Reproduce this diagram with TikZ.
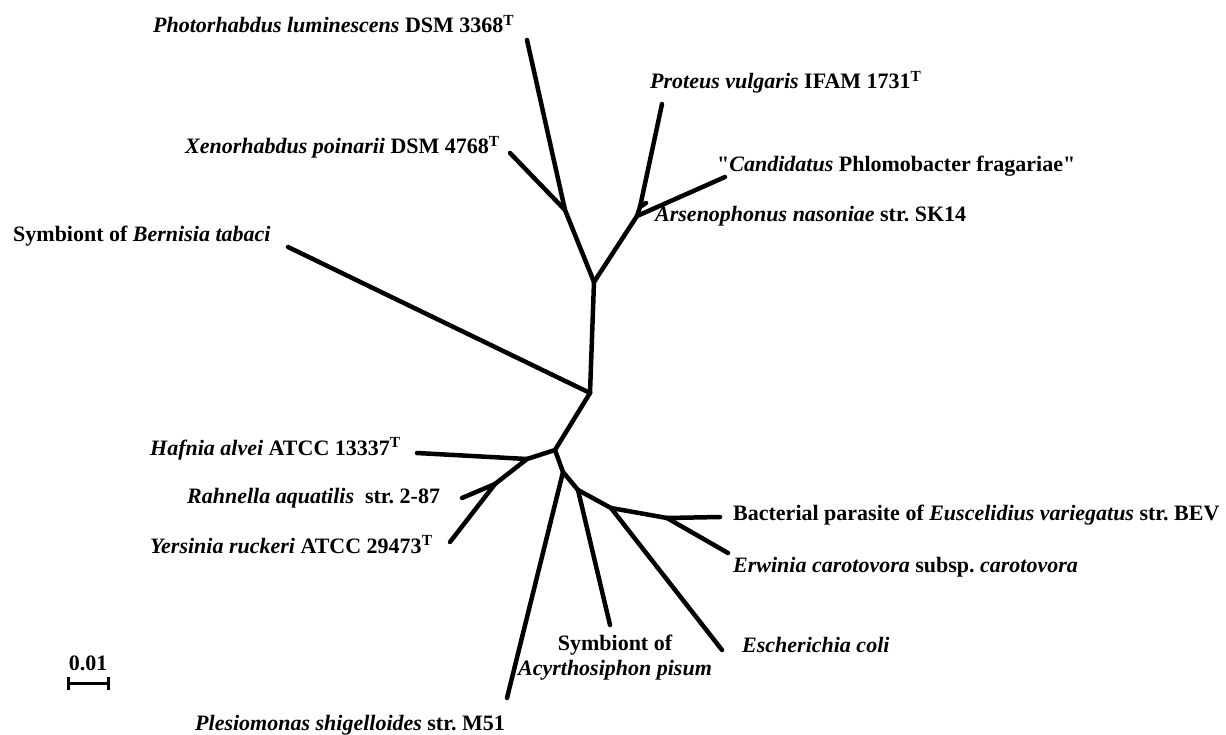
\documentclass[tikz,border=0pt]{standalone}
\usepackage{fontspec}
\setmainfont{Liberation Serif}[Ligatures=TeXOff]
\usetikzlibrary{arrows.meta}
\frenchspacing
\tikzset{
  branch/.style={line width=4.5pt,line cap=round},
  taxon/.style={anchor=base west,inner sep=0pt},
}
\newcommand{\typestrain}{\textsuperscript{T}}

\begin{document}
\begin{tikzpicture}[x=1pt,y=-1pt,every node/.style={font=\fontsize{22}{25}\selectfont\bfseries}]
\useasboundingbox (0,0) rectangle (1226,735);
% internal nodes
\coordinate (nA) at (565,210);
\coordinate (nB) at (637,216);
\coordinate (nBb) at (640,207);
\coordinate (nC) at (594,282);
\coordinate (nD) at (590,393);
\coordinate (nE) at (555,450);
\coordinate (nF) at (527,459);
\coordinate (nG) at (495,484);
\coordinate (nH) at (563,472);
\coordinate (nI) at (578,490);
\coordinate (nJ) at (611,508);
\coordinate (nK) at (667,518);
% tips
\coordinate (lPhoto) at (527,40);
\coordinate (lXeno) at (510,153);
\coordinate (lProt) at (662,104);
\coordinate (lCand) at (725,177);
\coordinate (lArs) at (646,203);
\coordinate (lBern) at (288,247);
\coordinate (lHaf) at (417,453);
\coordinate (lRahn) at (462,498);
\coordinate (lYers) at (450,542);
\coordinate (lPles) at (507,698);
\coordinate (lAcyr) at (610,625);
\coordinate (lEsch) at (722,650);
\coordinate (lBev) at (720,517);
\coordinate (lErw) at (728,553);
% branches
\foreach \a/\b in {lPhoto/nA,lXeno/nA,nA/nC,nB/nC,nB/lCand,nB/nBb,nBb/lProt,nBb/lArs,
  nC/nD,lBern/nD,nD/nE,nE/nF,nF/lHaf,nF/nG,nG/lRahn,nG/lYers,nE/nH,nH/lPles,
  nH/nI,nI/lAcyr,nI/nJ,nJ/lEsch,nJ/nK,nK/lBev,nK/lErw}
  {\draw[branch] (\a) -- (\b);}
% taxa
\node[taxon] (tPhoto) at (153,33) {\textit{Photorhabdus luminescens} DSM 3368\typestrain};
\node[taxon] (tXeno) at (185,154) {\textit{Xenorhabdus poinarii} DSM 4768\typestrain};
\node[taxon] (tBern) at (13,242) {Symbiont of \textit{Bernisia tabaci}};
\node[taxon] (tProt) at (650,89) {\textit{Proteus vulgaris} IFAM 1731\typestrain};
\node[taxon] (tCand) at (717,172) {"\textit{Candidatus} Phlomobacter fragariae"};
\node[taxon] (tArs) at (655,222) {\textit{Arsenophonus nasoniae} str. SK14};
\node[taxon] (tHaf) at (150,455) {\textit{Hafnia alvei} ATCC 13337\typestrain};
\node[taxon] (tRahn) at (187,503) {\textit{Rahnella aquatilis}\ \ str. 2-87};
\node[taxon] (tYers) at (150,553) {\textit{Yersinia ruckeri} ATCC 29473\typestrain};
\node[taxon] (tPles) at (195,730) {\textit{Plesiomonas shigelloides} str. M51};
\node[anchor=base,align=center,inner sep=0pt] (tAcyr) at (615,675) {Symbiont of\\\textit{Acyrthosiphon pisum}};
\node[taxon] (tEsch) at (742,652) {\textit{Escherichia coli}};
\node[taxon] (tBev) at (733,520) {Bacterial parasite of \textit{Euscelidius variegatus} str. BEV};
\node[taxon] (tErw) at (733,572) {\textit{Erwinia carotovora} subsp. \textit{carotovora}};
% scale bar
\coordinate (sL) at (67,683);
\coordinate (sR) at (110,683);
\draw[line width=3pt,{Bar[width=13pt]}-{Bar[width=13pt]}] (sL) -- (sR);
\node[anchor=base,inner sep=0pt] (scale) at (88,670) {0.01};
\end{tikzpicture}
\end{document}
